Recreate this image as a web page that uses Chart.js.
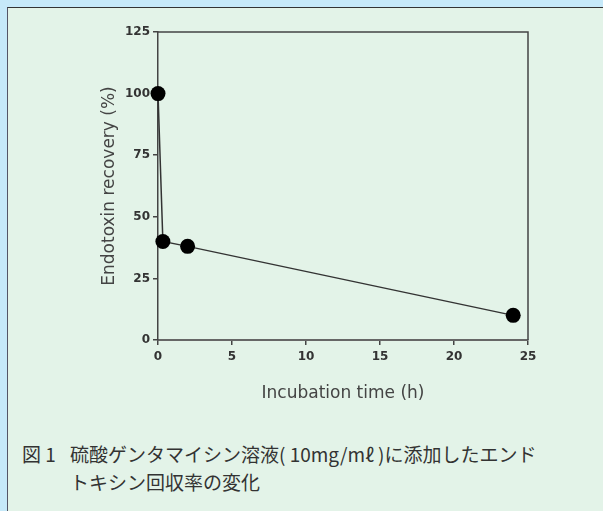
<!DOCTYPE html>
<html>
<head>
<meta charset="utf-8">
<script src="https://cdn.jsdelivr.net/npm/chart.js@4/dist/chart.umd.min.js"></script>
<style>
  html, body { margin: 0; padding: 0; }
  body { width: 603px; height: 511px; background: #c6e9f9; position: relative; overflow: hidden; }
  #panel {
    position: absolute; left: 7px; top: 7px; width: 596px; height: 504px;
    background: #e3f3e8; border-top: 1px solid #333; border-left: 1px solid #556;
  }
  #wrap { position: absolute; left: 0; top: 0; width: 603px; height: 420px; }
  .cap {
    position: absolute; font-family: "Noto Sans CJK JP", "Noto Sans", sans-serif;
    font-size: 19px; color: #333; white-space: nowrap; line-height: 1;
  }
</style>
</head>
<body>
<div id="panel"></div>
<div id="wrap"><canvas id="recoveryChart" width="603" height="420"></canvas></div>
<div class="cap" style="left:22px; top:444px;">図 1</div>
<div class="cap" style="left:70px; top:444px;">硫酸ゲンタマイシン溶液( 10mg/mℓ )に添加したエンド</div>
<div class="cap" style="left:70px; top:472px;">トキシン回収率の変化</div>
<script>
const timeHours = [0, 0.33, 2, 24];
const recoveryPct = [100, 40, 38, 10];
const xTickValues = [0, 5, 10, 15, 20, 25];
const yTickValues = [0, 25, 50, 75, 100, 125];

const AXIS_COLOR = '#444';
const TEXT_COLOR = '#333';

// top and right edges of the plot box
const frameBox = {
    id: 'frameBox',
    afterDraw(chart) {
        const { ctx, chartArea: a } = chart;
        ctx.save();
        ctx.strokeStyle = AXIS_COLOR;
        ctx.lineWidth = 1.5;
        ctx.beginPath();
        ctx.moveTo(a.left, a.top);
        ctx.lineTo(a.right, a.top);
        ctx.lineTo(a.right, a.bottom);
        ctx.stroke();
        ctx.restore();
    },
};

const tickFont = { family: 'DejaVu Sans', size: 12, weight: 'bold' };
const titleFont = { family: 'DejaVu Sans', size: 17 };

new Chart(document.getElementById('recoveryChart'), {
    type: 'line',
    data: {
        datasets: [{
            data: timeHours.map((t, i) => ({ x: t, y: recoveryPct[i] })),
            borderColor: '#333',
            borderWidth: 1.5,
            pointRadius: 7.5,
            pointBackgroundColor: '#000',
            pointBorderColor: '#000',
            pointBorderWidth: 0,
            tension: 0,
            clip: false,
        }],
    },
    options: {
        responsive: false,
        animation: false,
        layout: { padding: { left: 99, right: 75, top: 32, bottom: 16 } },
        plugins: { legend: { display: false }, tooltip: { enabled: false } },
        scales: {
            x: {
                type: 'linear',
                min: 0,
                max: 25,
                afterBuildTicks: (s) => { s.ticks = xTickValues.map((v) => ({ value: v })); },
                afterFit: (s) => { s.height = 64; },
                grid: { display: true, drawOnChartArea: false, drawTicks: true, tickLength: 5, color: AXIS_COLOR, lineWidth: 1.5 },
                border: { display: true, color: '#666', width: 2 },
                ticks: { font: tickFont, color: TEXT_COLOR, padding: 5, maxRotation: 0 },
                title: { display: true, text: 'Incubation time (h)', font: titleFont, color: '#444', padding: { top: 0, bottom: 0 } },
            },
            y: {
                min: 0,
                max: 125,
                afterBuildTicks: (s) => { s.ticks = yTickValues.map((v) => ({ value: v })); },
                afterFit: (s) => { s.width = 59; },
                grid: { display: true, drawOnChartArea: false, drawTicks: true, tickLength: 5, color: AXIS_COLOR, lineWidth: 1.5 },
                border: { display: true, color: AXIS_COLOR, width: 1.5 },
                ticks: { font: tickFont, color: TEXT_COLOR, padding: 3 },
                title: { display: true, text: 'Endotoxin recovery (%)', font: titleFont, color: '#444', padding: { top: 0, bottom: 0 } },
            },
        },
    },
    plugins: [frameBox],
});
</script>
</body>
</html>
